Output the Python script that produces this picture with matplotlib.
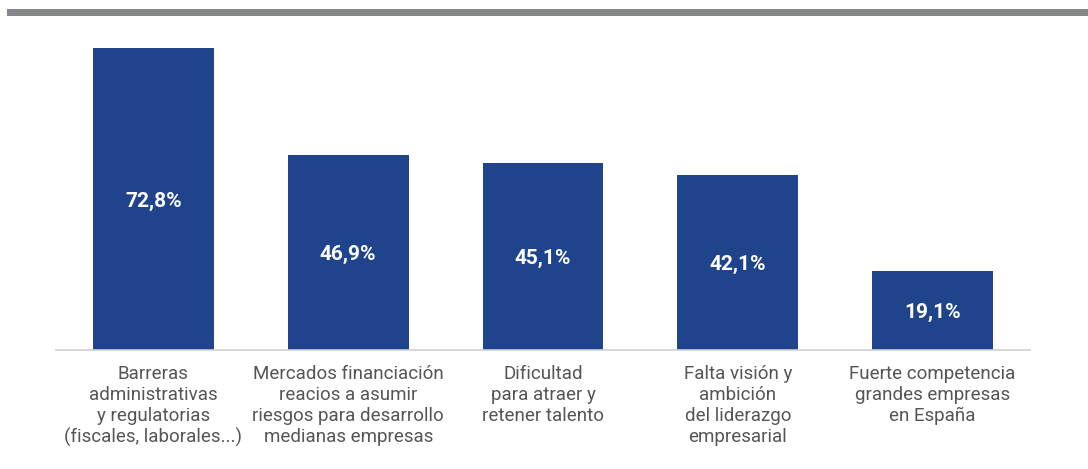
import matplotlib
matplotlib.use("Agg")
import matplotlib.pyplot as plt
from matplotlib.patches import Rectangle

categories = [
    "Barreras\nadministrativas\ny regulatorias\n(fiscales, laborales...)",
    "Mercados financiación\nreacios a asumir\nriesgos para desarrollo\nmedianas empresas",
    "Dificultad\npara atraer y\nretener talento",
    "Falta visión y\nambición\ndel liderazgo\nempresarial",
    "Fuerte competencia\ngrandes empresas\nen España",
]
values = [72.8, 46.9, 45.1, 42.1, 19.1]
value_labels = ["72,8%", "46,9%", "45,1%", "42,1%", "19,1%"]

BAR_COLOR = "#1f448c"
TEXT_COLOR = "#555555"

plt.rcParams["font.family"] = ["Roboto", "DejaVu Sans"]

W, H = 1088, 469
fig = plt.figure(figsize=(W / 100, H / 100), dpi=100)
ax = fig.add_axes([56 / W, (H - 350) / H, (1030 - 56) / W, (350 - 18) / H])

x = range(len(values))
bars = ax.bar(x, values, width=0.62, color=BAR_COLOR, zorder=2)

for xi, v, lab in zip(x, values, value_labels):
    ax.text(xi, v / 2, lab, ha="center", va="center_baseline", color="white",
            fontsize=15, fontweight="bold")

ax.set_xlim(-0.5, len(values) - 0.5)
ax.set_ylim(0, 80)
ax.set_yticks([])
ax.set_xticks(list(x))
ax.set_xticklabels(categories, fontsize=13.5, color=TEXT_COLOR, linespacing=1.2)
ax.tick_params(axis="x", length=0, pad=11)
for s in ("top", "right", "left"):
    ax.spines[s].set_visible(False)
ax.spines["bottom"].set_color("#cfcfcf")
ax.spines["bottom"].set_linewidth(1.2)

# header rule
fig.patches.append(Rectangle((7 / W, (H - 16) / H), 1 - 7 / W, 7 / H,
                             transform=fig.transFigure, facecolor="#858689",
                             edgecolor="none"))

fig.savefig("out.png", dpi=100)
